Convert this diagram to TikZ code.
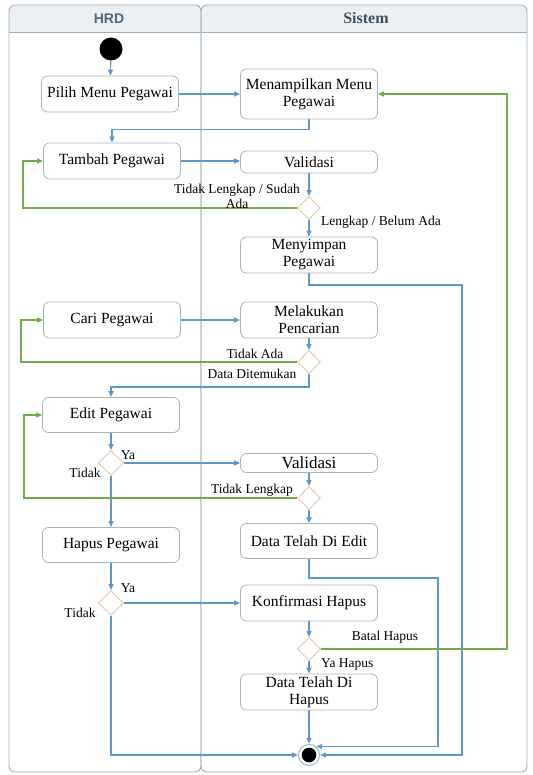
\documentclass[tikz,border=0pt]{standalone}
\usepackage{fontspec}
\setmainfont{Liberation Serif}
\newfontfamily\hdrsans{Liberation Sans}
\usetikzlibrary{arrows.meta,shapes.geometric}

\definecolor{laneline}{HTML}{9AB0C6}
\definecolor{hdrfill}{HTML}{EDF0F3}
\definecolor{boxline}{HTML}{A7B5C3}
\definecolor{flowblue}{HTML}{5F97C9}
\definecolor{flowgreen}{HTML}{72AB4C}
\definecolor{decline}{HTML}{DCBFA3}
\definecolor{hrdtext}{HTML}{4E6A86}
\definecolor{sistext}{HTML}{3D5064}
\definecolor{ringline}{HTML}{A9C0D6}

\tikzset{
  lane/.style={draw=laneline, line width=0.9pt},
  act/.style={draw=boxline, fill=white, rounded corners=6pt, line width=0.8pt,
    minimum width=137pt, minimum height=36pt, align=center, inner sep=2pt,
    font=\fontsize{15.5}{17}\selectfont},
  dec/.style={diamond, draw=decline, fill=white, line width=0.8pt,
    minimum width=23pt, minimum height=23pt, inner sep=0pt},
  flow/.style={draw=flowblue, line width=1.2pt, -{Triangle[length=6pt,width=5pt]}},
  back/.style={draw=flowgreen, line width=1.3pt, -{Triangle[length=6pt,width=5pt]}},
  lbl/.style={font=\fontsize{13.5}{15}\selectfont, inner sep=0pt, align=center},
}

\begin{document}
\begin{tikzpicture}[x=1pt,y=-1pt]
\useasboundingbox (0,0) rectangle (532,775);

% swimlanes
\fill[hdrfill] (9,32) [rounded corners=6pt] -- (9,5) -- (201,5) [sharp corners] -- (201,32) -- cycle;
\fill[hdrfill] (201,32) [rounded corners=6pt] -- (201,5) -- (527,5) [sharp corners] -- (527,32) -- cycle;
\draw[lane, rounded corners=6pt] (9,5) rectangle (201,772);
\draw[lane, rounded corners=6pt] (201,5) rectangle (527,772);
\draw[lane] (9,32) -- (527,32);
\node (hrdtitle) at (109,18.5) {\hdrsans\bfseries\fontsize{14}{16}\selectfont\color{hrdtext}HRD};
\node (sistitle) at (366,18.5) {\bfseries\fontsize{16}{18}\selectfont\color{sistext}Sistem};

% start / end
\node (start) [circle, fill=black, minimum size=23pt, inner sep=0pt] at (111,49) {};
\node (end) [circle, draw=ringline, fill=white, line width=1.2pt, minimum size=21pt, inner sep=0pt,
  path picture={\fill[black] (path picture bounding box.center) circle (7.3pt);}] at (309,755) {};

% actions: HRD
\node (pilih)  [act] at (110,94)  {Pilih Menu Pegawai};
\node (tambah) [act] at (112,161) {Tambah Pegawai};
\node (cari)   [act] at (112,320) {Cari Pegawai};
\node (edit)   [act, minimum height=35pt] at (111,415) {Edit Pegawai};
\node (hapus)  [act, minimum height=35pt] at (111,545) {Hapus Pegawai};

% actions: Sistem
\node (menu)      [act, minimum height=50pt] at (309,94) {Menampilkan Menu\\Pegawai};
\node (valid)     [act, minimum height=22pt] at (309,162) {Validasi};
\node (simpan)    [act] at (309,255) {Menyimpan\\Pegawai};
\node (cariproc)  [act] at (309,320) {Melakukan\\Pencarian};
\node (validedit) [act, minimum height=19pt, font=\fontsize{17}{19}\selectfont] at (309,463) {Validasi};
\node (dataedit)  [act, minimum height=35pt] at (309,541) {Data Telah Di Edit};
\node (konfirm)   [act] at (309,603) {Konfirmasi Hapus};
\node (datahapus) [act] at (309,692) {Data Telah Di\\Hapus};

% decisions
\node (d1) [dec] at (309,208) {};
\node (d2) [dec] at (309,362) {};
\node (d3) [dec, minimum width=25pt, minimum height=25pt] at (111,463) {};
\node (d4) [dec] at (309,498) {};
\node (d5) [dec, minimum width=25pt, minimum height=25pt] at (111,603) {};
\node (d6) [dec] at (309,649) {};

% bend points
\coordinate (loopadd)  at (23,185);
\coordinate (loopfind) at (21,340);
\coordinate (loopedit) at (24,455);
\coordinate (loopmenu) at (507,400);
\coordinate (saveturn) at (462,285);
\coordinate (editturn) at (438,578);

% main flow
\draw[flow] (start) -- (pilih);
\draw[flow] (pilih) -- (menu);
\draw[flow] (menu.south) -- ++(0,10) -| (tambah.north);
\draw[flow] (tambah.east) -- (valid.west |- tambah.east);
\draw[flow] (valid) -- (d1);
\draw[flow] (d1) -- (simpan);
\draw[flow] (simpan.south) |- (saveturn) |- (end.east);
\draw[flow] (cari) -- (cariproc);
\draw[flow] (cariproc) -- (d2);
\draw[flow] (d2.south) -- ++(0,13) -| (edit.north);
\draw[flow] (edit) -- (d3);
\draw[flow] (d3) -- (validedit);
\draw[flow] (validedit) -- (d4);
\draw[flow] (d4) -- (dataedit);
\draw[flow] (dataedit.south) |- (editturn) |- (end.50);
\draw[flow] (d3) -- (hapus);
\draw[flow] (hapus) -- (d5);
\draw[flow] (d5) -- (konfirm);
\draw[flow] (konfirm) -- (d6);
\draw[flow] (d6) -- (datahapus);
\draw[flow] (datahapus) -- (end);
\draw[flow] (d5.south) |- (end.west);

% return flows
\draw[back] (d1.west) -| (loopadd) |- (tambah.west);
\draw[back] (d2.west) -| (loopfind) |- (cari.west);
\draw[back] (d4.west) -| (loopedit) |- (edit.west);
\draw[back] (d6.east) -| (loopmenu) |- (menu.east);

% guards
\node (g1) [lbl] at (237,196) {Tidak Lengkap / Sudah\\Ada};
\node (g2) [lbl, anchor=west] at (321,222) {Lengkap / Belum Ada};
\node (g3) [lbl] at (255,354) {Tidak Ada};
\node (g4) [lbl] at (252,374) {Data Ditemukan};
\node (g5) [lbl] at (128,455) {Ya};
\node (g6) [lbl] at (85,473) {Tidak};
\node (g7) [lbl] at (252,490) {Tidak Lengkap};
\node (g8) [lbl] at (128,588) {Ya};
\node (g9) [lbl] at (80,613) {Tidak};
\node (g10) [lbl] at (385,637) {Batal Hapus};
\node (g11) [lbl, anchor=west] at (321,665) {Ya Hapus};
\end{tikzpicture}
\end{document}
